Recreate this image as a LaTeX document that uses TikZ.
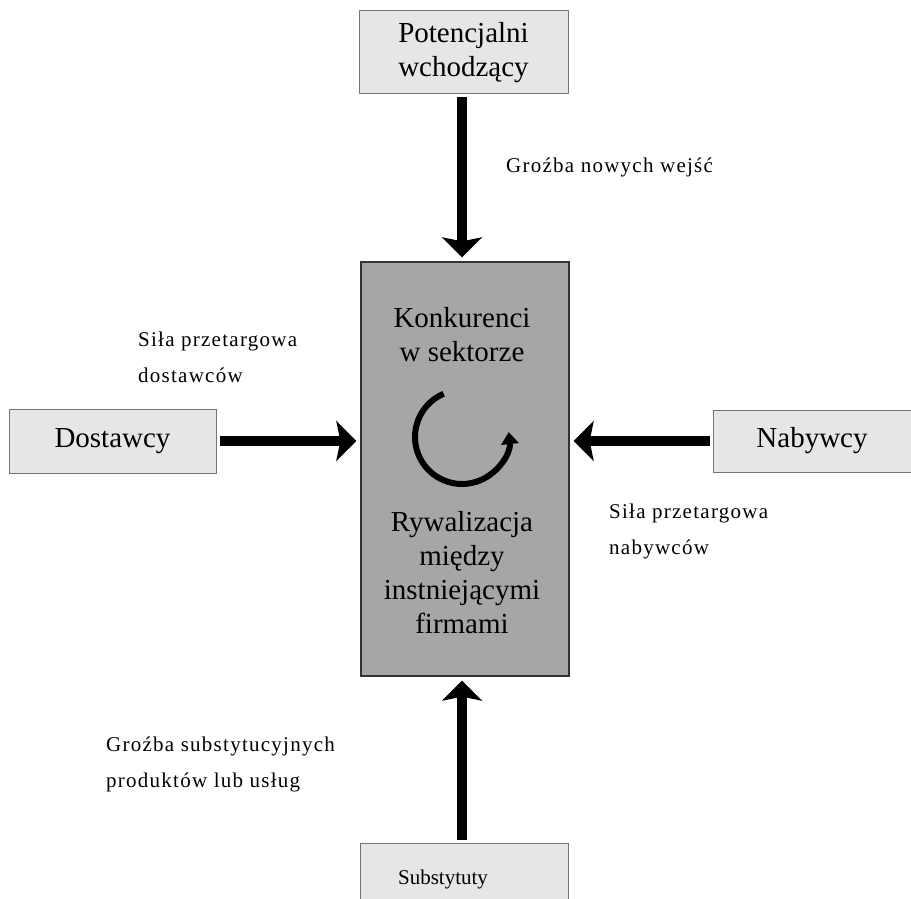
\documentclass[tikz,border=0pt]{standalone}
\usepackage{fontspec}
\setmainfont{Liberation Serif}
\newfontfamily\lblfont[LetterSpace=6]{Liberation Serif}
\usetikzlibrary{arrows.meta,positioning,calc}
\definecolor{lightbox}{HTML}{E6E6E6}
\definecolor{corebox}{HTML}{A6A6A6}

\begin{document}
\begin{tikzpicture}[
  x=1pt, y=-1pt,
  box/.style={draw=black!55, line width=1pt, fill=lightbox, align=center,
              inner sep=0pt, font=\fontsize{29}{34}\selectfont},
  core/.style={draw=black!80, line width=1.3pt, fill=corebox,
               minimum width=208pt, minimum height=414pt, inner sep=0pt},
  ctext/.style={align=center, inner sep=0pt, font=\fontsize{29}{34}\selectfont},
  frc/.style={-{Stealth[length=20pt, width=40pt, inset=4pt]}, line width=10pt,
              shorten <=3pt, shorten >=4pt},
  lbl/.style={align=left, inner sep=0pt, font=\lblfont\fontsize{21}{36}\selectfont}]
\useasboundingbox (0,0) rectangle (911,899);

% ---------------- the sector in the middle -------------------------------
\node[core] (kon) at (465,469) {};
\node[ctext] (kontxt) at (462,335) {Konkurenci\\w sektorze};
\node[ctext] (rywtxt) at (462,573) {Rywalizacja\\między\\instniejącymi\\firmami};
\coordinate (cyc) at (462,437);
\draw[line width=6pt, -{Triangle[length=12pt, width=17pt]}]
  ($(cyc)+(-113:47)$) arc[start angle=-113, end angle=-366, radius=47];

% ---------------- the four outer forces ----------------------------------
\node[box, minimum width=209pt, minimum height=83pt] (pot) at (463.5,52.5)
      {Potencjalni\\wchodzący};
\node[box, minimum width=207pt, minimum height=64pt] (dos) at (112.5,441)
      {Dostawcy};
\node[box, minimum width=198pt, minimum height=62pt] (nab) at (812,441)
      {Nabywcy};
\node[box, minimum width=208pt, minimum height=74pt] (sub) at (464,880) {};
\node[font=\fontsize{21}{26}\selectfont, inner sep=0pt] (subtxt) at (443,879)
      {Substytuty};

\draw[frc] (pot.south -| cyc) -- (kon.north -| cyc);
\draw[frc] (dos.east) -- (kon.west |- dos.east);
\draw[frc] (nab.west) -- (kon.east |- nab.west);
\draw[frc] (sub.north -| cyc) -- (kon.south -| cyc);

% ---------------- labels of the forces -----------------------------------
\node[lbl, anchor=west] (lnew) at (506,167) {Groźba nowych wejść};
\node[lbl, anchor=north west] (ldos) at (138,332) {Siła przetargowa\\dostawców};
\node[lbl, anchor=north west] (lnab) at (609,504) {Siła przetargowa\\nabywców};
\node[lbl, anchor=north west] (lsub) at (106,737)
      {Groźba substytucyjnych\\produktów lub usług};
\end{tikzpicture}
\end{document}
